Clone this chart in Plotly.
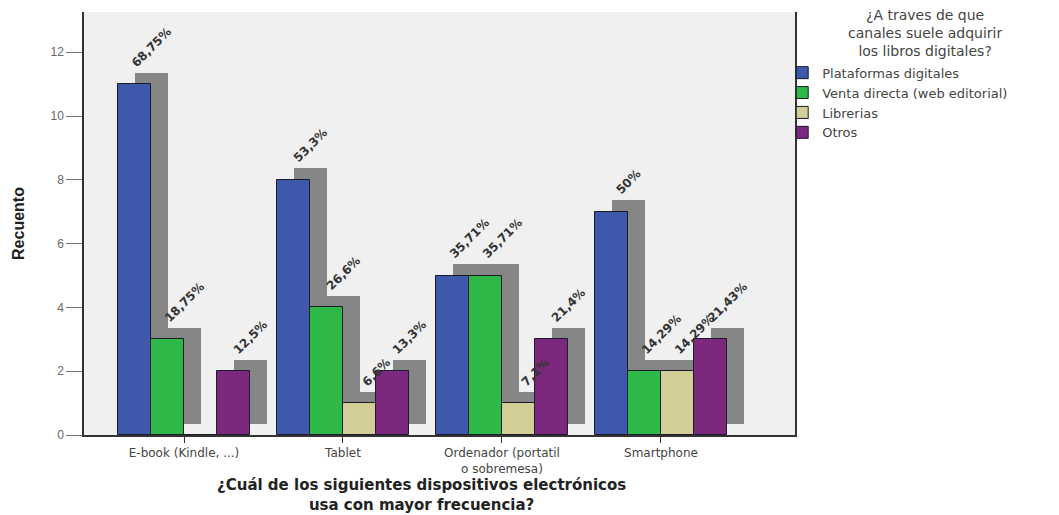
import plotly.graph_objects as go

# Devices (x categories) and acquisition channels (series)
categories = ["E-book (Kindle, ...)", "Tablet", "Ordenador (portatil<br>o sobremesa)", "Smartphone"]
series_names = ["Plataformas digitales", "Venta directa (web editorial)", "Librerias", "Otros"]

plataformas = [11, 8, 5, 7]
venta_directa = [3, 4, 5, 2]
librerias = [0, 1, 1, 2]
otros = [2, 2, 3, 3]

plataformas_pct = ["68,75%", "53,3%", "35,71%", "50%"]
venta_directa_pct = ["18,75%", "26,6%", "35,71%", "14,29%"]
librerias_pct = ["", "6,6%", "7,1%", "14,29%"]
otros_pct = ["12,5%", "13,3%", "21,4%", "21,43%"]

y_ticks = [0, 2, 4, 6, 8, 10, 12]

values = [plataformas, venta_directa, librerias, otros]
pct_labels = [plataformas_pct, venta_directa_pct, librerias_pct, otros_pct]
colors = ["#3E58AC", "#2EB848", "#D3CE97", "#7C287D"]

BAR_W = 0.2075      # width of one bar in category units
DEPTH_X = 0.107     # 3D depth offset (x, category units)
DEPTH_Y = 0.36      # 3D depth offset (y, count units)
SHADOW = "#868686"

pos = list(range(len(categories)))
fig = go.Figure()


def depth_x(i):
    off = (i - 1.5) * BAR_W
    return [p + off + DEPTH_X for p in pos]


# back faces (depth) first, so every front face sits on top of them
for i, vals in enumerate(values):
    fig.add_trace(go.Bar(
        x=depth_x(i), y=vals, base=DEPTH_Y, width=BAR_W,
        marker=dict(color=SHADOW, line=dict(width=0)),
        showlegend=False, hoverinfo="skip",
    ))

# front faces
for i, (vals, name) in enumerate(zip(values, series_names)):
    off = (i - 1.5) * BAR_W
    fig.add_trace(go.Bar(
        x=[p + off for p in pos], y=vals, width=BAR_W,
        name=name,
        marker=dict(color=colors[i], line=dict(width=1, color="#1b1b2b")),
    ))

# percentage labels on a transparent copy of the back faces, drawn last
for i, (vals, labels) in enumerate(zip(values, pct_labels)):
    fig.add_trace(go.Bar(
        x=depth_x(i), y=vals, base=DEPTH_Y, width=BAR_W,
        marker=dict(color="rgba(0,0,0,0)", line=dict(width=0)),
        text=labels, textposition="outside", textangle=-45,
        constraintext="none", cliponaxis=False,
        textfont=dict(family="DejaVu Sans", size=12, color="#333", weight="bold"),
        showlegend=False, hoverinfo="skip",
    ))

fig.update_layout(
    width=1059, height=515,
    margin=dict(l=84, r=264, t=12, b=80),
    paper_bgcolor="white",
    plot_bgcolor="#F0F0F0",
    barmode="overlay",
    bargap=0,
    font=dict(family="Liberation Sans", color="#444"),
    xaxis=dict(
        range=[-0.629, 3.843],
        tickmode="array", tickvals=pos, ticktext=categories,
        ticks="outside", ticklen=6, tickcolor="#333",
        showline=True, linecolor="#333", linewidth=1.5,
        showgrid=False, zeroline=False,
        tickfont=dict(family="DejaVu Sans", size=12, color="#444"),
    ),
    yaxis=dict(
        range=[0, 13.26],
        tickmode="array", tickvals=y_ticks,
        ticks="outside", ticklen=16, tickcolor="#777",
        showline=True, linecolor="#333", linewidth=1.5, mirror=True,
        showgrid=False, zeroline=False,
        tickfont=dict(family="Liberation Sans", size=12, color="#666"),
        title=dict(text="Recuento", standoff=22,
                   font=dict(family="Liberation Sans", size=16, color="#222", weight="bold")),
    ),
    legend=dict(
        x=0.982, xanchor="left", y=0.892, yanchor="top",
        bgcolor="rgba(0,0,0,0)", borderwidth=0,
        itemwidth=30,
        font=dict(family="DejaVu Sans", size=13, color="#444"),
    ),
    annotations=[
        dict(
            text="¿A traves de que<br>canales suele adquirir<br>los libros digitales?",
            xref="paper", yref="paper", x=1.183, y=0.950,
            xanchor="center", yanchor="middle", align="center", showarrow=False,
            font=dict(family="DejaVu Sans", size=14, color="#444"),
        ),
        dict(
            text="¿Cuál de los siguientes dispositivos electrónicos<br>usa con mayor frecuencia?",
            xref="paper", yref="paper", x=0.475, y=-0.143,
            xanchor="center", yanchor="middle", showarrow=False,
            font=dict(family="DejaVu Sans", size=15, color="#222", weight="bold"),
        ),
    ],
)

fig.write_html("out.html")
